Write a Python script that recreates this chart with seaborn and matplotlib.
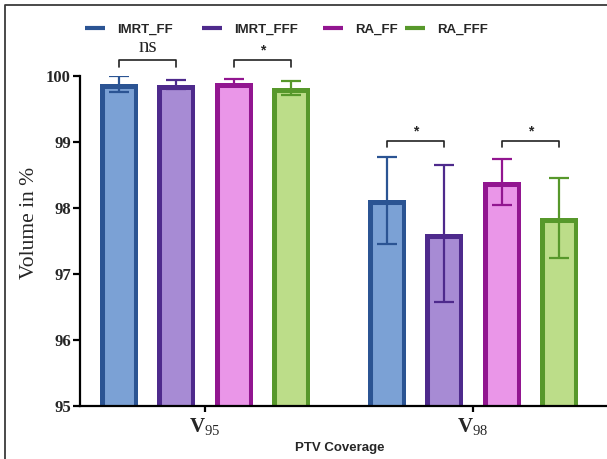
import numpy as np
import pandas as pd
import matplotlib
matplotlib.use("Agg")
import matplotlib.pyplot as plt
import seaborn as sns
from matplotlib.lines import Line2D
from matplotlib.transforms import TransformedPatchPath

# PTV coverage (mean ± SD, %) for each plan type
metrics = ["V95", "V98"]
plans = ["IMRT_FF", "IMRT_FFF", "RA_FF", "RA_FFF"]
mean_v95 = [99.88, 99.87, 99.90, 99.82]
sd_v95 = [0.12, 0.07, 0.05, 0.11]
mean_v98 = [98.12, 97.61, 98.39, 97.85]
sd_v98 = [0.66, 1.04, 0.35, 0.61]
tick_labels = [r"$\mathbf{V}_{\mathrm{95}}$", r"$\mathbf{V}_{\mathrm{98}}$"]
y_ticks = [95, 96, 97, 98, 99, 100]
# (metric index, plan a, plan b, significance label)
comparisons = [(0, 0, 1, "ns"), (0, 2, 3, "*"), (1, 0, 1, "*"), (1, 2, 3, "*")]

edge_colors = ["#2b5493", "#4e2a8c", "#921690", "#57982b"]
fill_colors = ["#7ba1d5", "#a78bd4", "#ea96e8", "#bcdd89"]

means = [mean_v95, mean_v98]
sds = [sd_v95, sd_v98]

df = pd.DataFrame({
    "metric": np.repeat(metrics, len(plans)),
    "plan": plans * len(metrics),
    "value": mean_v95 + mean_v98,
})

sns.set_style("ticks")
plt.rcParams["mathtext.fontset"] = "custom"
plt.rcParams["mathtext.rm"] = "Liberation Serif"
plt.rcParams["mathtext.bf"] = "Liberation Serif:bold"
plt.rcParams["mathtext.it"] = "Liberation Serif:italic"

W, H = 607, 459
fig = plt.figure(figsize=(W / 100, H / 100), dpi=100)
L, R, B, T = 80, 613, 406, 76
ax = fig.add_axes([L / W, 1 - B / H, (R - L) / W, (B - T) / H])

sns.barplot(data=df, x="metric", y="value", hue="plan", order=metrics,
            hue_order=plans, palette=fill_colors, saturation=1,
            width=0.86, gap=0.34, errorbar=None, legend=False, ax=ax)

# bar outlines drawn inside the bar, error bars on top
bar_containers = list(ax.containers)
centers = {}
for i, cont in enumerate(bar_containers):
    for g, bar in enumerate(cont.patches):
        bar.set_edgecolor(edge_colors[i])
        bar.set_linewidth(6.5)
        bar.set_clip_path(TransformedPatchPath(bar))
        xc = bar.get_x() + bar.get_width() / 2
        centers[(g, i)] = xc
        ax.errorbar(xc, means[g][i], yerr=sds[g][i], fmt="none",
                    ecolor=edge_colors[i], elinewidth=1.6, capsize=7,
                    capthick=1.6, zorder=4)

# significance brackets
for g, a, b, label in comparisons:
    top = max(m + s for m, s in zip(means[g], sds[g])) + 0.24
    xa, xb = centers[(g, a)], centers[(g, b)]
    ax.plot([xa, xa, xb, xb], [top - 0.1, top, top, top - 0.1],
            color="#222222", lw=1.2, clip_on=False, zorder=5)
    if label == "ns":
        ax.text((xa + xb) / 2, top + 0.19, label, ha="center", va="center",
                family="Liberation Serif", fontsize=15, clip_on=False)
    else:
        ax.text((xa + xb) / 2, top + 0.14, label, ha="center", va="center",
                family="Liberation Sans", weight="bold", fontsize=10,
                clip_on=False)

ax.set_ylim(95, 100)
ax.set_yticks(y_ticks)
ax.set_yticklabels([str(t) for t in y_ticks], family="Liberation Serif",
                   weight="bold", fontsize=12)
ax.set_xlim((L - 205) / 268, (R - 205) / 268)
ax.set_xticks([0, 1])
ax.set_xticklabels(tick_labels, fontsize=15)
ax.set_xlabel("")
ax.set_ylabel("")
sns.despine(ax=ax)
for side in ("left", "bottom"):
    ax.spines[side].set_linewidth(1.6)
    ax.spines[side].set_color("black")
ax.tick_params(axis="y", length=5, width=1.6, pad=1.5, color="black")
ax.tick_params(axis="x", length=4.5, width=1.6, pad=3, color="black")

fig.text(30 / W, 1 - 223 / H, "Volume in %", rotation=90, ha="center",
         va="center", family="Liberation Serif", fontsize=15.5)
fig.text(340 / W, 1 - 448 / H, "PTV Coverage", ha="center", va="center",
         family="Liberation Sans", weight="bold", fontsize=9.5)

# legend entries along the top
legend_x = [85, 202, 323, 405]
for i, name in enumerate(plans):
    h = Line2D([], [], color=edge_colors[i], lw=3.0, solid_capstyle="butt")
    fig.legend([h], [name], loc="center left",
               bbox_to_anchor=(legend_x[i] / W, 1 - 29.5 / H),
               bbox_transform=fig.transFigure, frameon=False,
               borderpad=0, borderaxespad=0, handlelength=1.5,
               handletextpad=0.9,
               prop={"family": "Liberation Sans", "weight": "bold",
                     "size": 9.5})

# outer frame
fig.add_artist(Line2D([5 / W, 5 / W, 1], [0, 1 - 5 / H, 1 - 5 / H],
                      transform=fig.transFigure, color="#3a3a3a", lw=1.3))

fig.savefig("out.png", dpi=100)
